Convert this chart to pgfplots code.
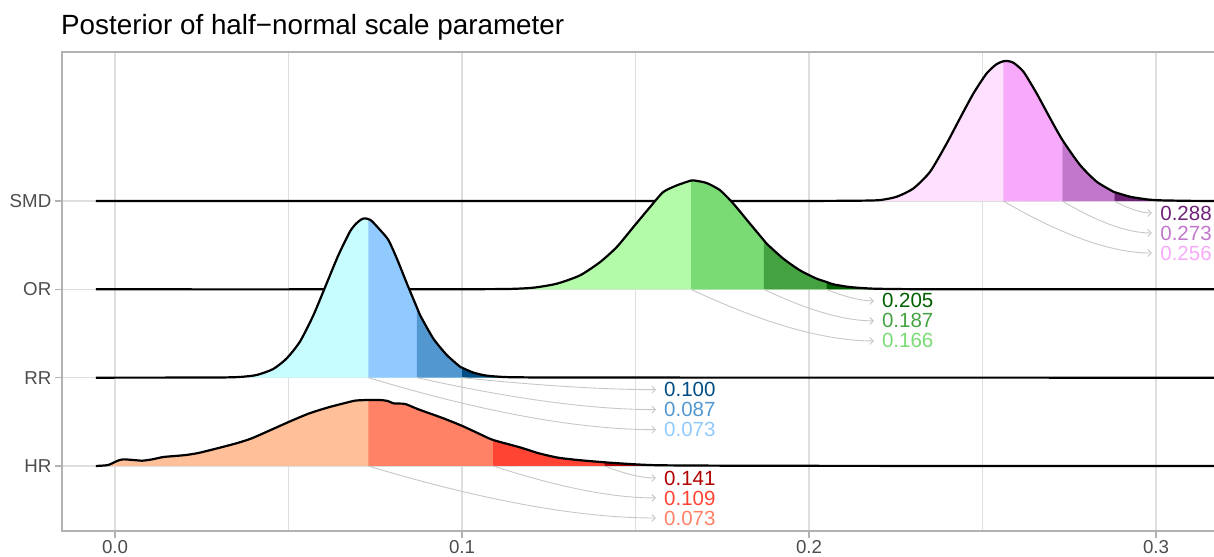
\documentclass[border=0pt]{standalone}
\usepackage{fontspec}
\setmainfont{Liberation Sans}
\usepackage{pgfplots}
\pgfplotsset{compat=1.18}
\usepackage{pgfplotstable}
\usetikzlibrary{arrows.meta}

% band colours: A = below median, B, C, D = upper tail bands
\definecolor{smdA}{HTML}{FFE0FF}\definecolor{smdB}{HTML}{F8AAFA}
\definecolor{smdC}{HTML}{C277CC}\definecolor{smdD}{HTML}{6E2277}
\definecolor{orA}{HTML}{B3FBA8}\definecolor{orB}{HTML}{7ADB75}
\definecolor{orC}{HTML}{44A340}\definecolor{orD}{HTML}{005F00}
\definecolor{rrA}{HTML}{C8FDFF}\definecolor{rrB}{HTML}{91CAFF}
\definecolor{rrC}{HTML}{5397D0}\definecolor{rrD}{HTML}{004E85}
\definecolor{hrA}{HTML}{FEBF99}\definecolor{hrB}{HTML}{FF8266}
\definecolor{hrC}{HTML}{FF4433}\definecolor{hrD}{HTML}{B20000}
\definecolor{tickgrey}{HTML}{4D4D4D}

\newcommand{\lab}{\fontsize{20.5bp}{22bp}\selectfont}

% posterior density heights (ridge units above each baseline)
\pgfplotstableread{
x h
-0.0055 0
0.1500 0
0.2000 0.001
0.2147 0.004
0.2205 0.011
0.2253 0.049
0.2301 0.143
0.2349 0.332
0.2397 0.653
0.2435 0.936
0.2474 1.219
0.2512 1.445
0.2541 1.551
0.2560 1.582
0.2572 1.585
0.2589 1.566
0.2618 1.464
0.2656 1.219
0.2695 0.936
0.2730 0.693
0.2781 0.408
0.2829 0.219
0.2877 0.106
0.2880 0.101
0.2925 0.049
0.2973 0.019
0.3012 0.008
0.3100 0.002
0.3176 0.001
}\smd

\pgfplotstableread{
x h
-0.0055 0
0.0600 0
0.0937 0.001
0.1129 0.004
0.1206 0.019
0.1273 0.064
0.1340 0.158
0.1398 0.309
0.1446 0.479
0.1494 0.706
0.1542 0.932
0.1580 1.102
0.1619 1.177
0.1660 1.232
0.1667 1.234
0.1705 1.204
0.1744 1.121
0.1782 0.970
0.1830 0.743
0.1870 0.555
0.1878 0.517
0.1926 0.347
0.1974 0.215
0.2022 0.121
0.2050 0.084
0.2070 0.057
0.2118 0.026
0.2185 0.008
0.2300 0.002
0.2600 0.001
0.3176 0
}\orr

\pgfplotstableread{
x h
-0.0055 0
0.0200 0.001
0.0303 0.002
0.0360 0.008
0.0408 0.030
0.0456 0.098
0.0495 0.219
0.0533 0.408
0.0572 0.709
0.0610 1.068
0.0644 1.389
0.0677 1.653
0.0695 1.745
0.0710 1.792
0.0720 1.804
0.0730 1.795
0.0740 1.774
0.0764 1.672
0.0788 1.558
0.0812 1.351
0.0841 1.068
0.0870 0.794
0.0879 0.709
0.0917 0.445
0.0956 0.257
0.0994 0.125
0.1000 0.113
0.1033 0.057
0.1071 0.023
0.1119 0.008
0.1167 0.004
0.1400 0.001
0.3176 0
}\rr

\pgfplotstableread{
x h
-0.0055 0
-0.0020 0.011
0.0008 0.060
0.0024 0.075
0.0052 0.068
0.0079 0.060
0.0107 0.075
0.0140 0.102
0.0173 0.113
0.0206 0.125
0.0240 0.147
0.0284 0.189
0.0350 0.257
0.0394 0.313
0.0449 0.408
0.0505 0.506
0.0560 0.596
0.0615 0.664
0.0659 0.709
0.0692 0.740
0.0725 0.747
0.0730 0.747
0.0764 0.747
0.0786 0.736
0.0803 0.709
0.0836 0.702
0.0874 0.642
0.0946 0.540
0.1001 0.453
0.1057 0.351
0.1090 0.294
0.1167 0.211
0.1222 0.143
0.1277 0.094
0.1333 0.068
0.1410 0.042
0.1498 0.019
0.1573 0.008
0.1800 0.003
0.2200 0.001
0.3176 0
}\hr

\tikzset{
  ridge/.style={draw=black, line width=2.2bp, line join=round, smooth, tension=0.4},
  basefill/.style={draw=none, smooth, tension=0.4},
  qarr/.style={draw=black!22, line width=0.9bp, -{Straight Barb[length=3.5bp,width=7bp]}},
}

\begin{document}
\begin{tikzpicture}
\useasboundingbox (0,0) rectangle (1214bp,557bp);
\node[anchor=base west, inner sep=0pt, font=\fontsize{27.8bp}{30bp}\selectfont]
  at (61bp,522bp) {Posterior of half−normal scale parameter};

\begin{axis}[
  at={(62bp,26bp)}, anchor=south west,
  scale only axis, width=1155bp, height=479bp,
  xmin=-0.015274, xmax=0.31758, ymin=0.2639, ymax=5.6874,
  xtick={0,0.1,0.2,0.3}, xticklabels={0.0,0.1,0.2,0.3},
  minor xtick={0.05,0.15,0.25},
  ytick={1,2,3,4}, yticklabels={HR,RR,OR,SMD},
  grid=both,
  major grid style={draw=black!13, line width=1.1bp},
  minor grid style={draw=black!13, line width=0.55bp},
  axis line style={draw=black!30, line width=1.3bp},
  tick align=outside, tick pos=left,
  major tick length=6.5bp, minor tick length=0pt,
  tick style={draw=black!30, line width=1.1bp},
  ticklabel style={font=\fontsize{18.7bp}{20bp}\selectfont, text=tickgrey},
  xticklabel style={inner sep=3bp},
  yticklabel style={inner sep=4bp},
]

% ---- SMD ridge (baseline 4)
\addplot[fill=smdA, basefill] table[y expr=\thisrow{h}+4] {\smd};
\addplot[fill=smdB, draw=none] table[y expr=\thisrow{h}+4] {
x h
0.2560 0
0.2560 1.582
0.2572 1.585
0.2589 1.566
0.2618 1.464
0.2656 1.219
0.2695 0.936
0.2730 0.693
0.2730 0
};
\addplot[fill=smdC, draw=none] table[y expr=\thisrow{h}+4] {
x h
0.2730 0
0.2730 0.693
0.2781 0.408
0.2829 0.219
0.2877 0.106
0.2880 0.101
0.2880 0
};
\addplot[fill=smdD, draw=none] table[y expr=\thisrow{h}+4] {
x h
0.2880 0
0.2880 0.101
0.2925 0.049
0.2973 0.019
0.3012 0.008
0.3100 0.002
0.3176 0.001
0.3176 0
};
\addplot[ridge] table[y expr=\thisrow{h}+4] {\smd};

% ---- OR ridge (baseline 3)
\addplot[fill=orA, basefill] table[y expr=\thisrow{h}+3] {\orr};
\addplot[fill=orB, draw=none] table[y expr=\thisrow{h}+3] {
x h
0.1660 0
0.1660 1.232
0.1667 1.234
0.1705 1.204
0.1744 1.121
0.1782 0.970
0.1830 0.743
0.1870 0.555
0.1870 0
};
\addplot[fill=orC, draw=none] table[y expr=\thisrow{h}+3] {
x h
0.1870 0
0.1870 0.555
0.1878 0.517
0.1926 0.347
0.1974 0.215
0.2022 0.121
0.2050 0.084
0.2050 0
};
\addplot[fill=orD, draw=none] table[y expr=\thisrow{h}+3] {
x h
0.2050 0
0.2050 0.084
0.2070 0.057
0.2118 0.026
0.2185 0.008
0.2300 0.002
0.2600 0.001
0.3176 0
};
\addplot[ridge] table[y expr=\thisrow{h}+3] {\orr};

% ---- RR ridge (baseline 2)
\addplot[fill=rrA, basefill] table[y expr=\thisrow{h}+2] {\rr};
\addplot[fill=rrB, draw=none] table[y expr=\thisrow{h}+2] {
x h
0.0730 0
0.0730 1.795
0.0740 1.774
0.0764 1.672
0.0788 1.558
0.0812 1.351
0.0841 1.068
0.0870 0.794
0.0870 0
};
\addplot[fill=rrC, draw=none] table[y expr=\thisrow{h}+2] {
x h
0.0870 0
0.0870 0.794
0.0879 0.709
0.0917 0.445
0.0956 0.257
0.0994 0.125
0.1000 0.113
0.1000 0
};
\addplot[fill=rrD, draw=none] table[y expr=\thisrow{h}+2] {
x h
0.1000 0
0.1000 0.113
0.1033 0.057
0.1071 0.023
0.1119 0.008
0.1167 0.004
0.1400 0.001
0.3176 0
};
\addplot[ridge] table[y expr=\thisrow{h}+2] {\rr};

% ---- HR ridge (baseline 1)
\addplot[fill=hrA, basefill] table[y expr=\thisrow{h}+1] {\hr};
\addplot[fill=hrB, draw=none] table[y expr=\thisrow{h}+1] {
x h
0.0730 0
0.0730 0.747
0.0764 0.747
0.0786 0.736
0.0803 0.709
0.0836 0.702
0.0874 0.642
0.0946 0.540
0.1001 0.453
0.1057 0.351
0.1090 0.294
0.1090 0
};
\addplot[fill=hrC, draw=none] table[y expr=\thisrow{h}+1] {
x h
0.1090 0
0.1090 0.294
0.1167 0.211
0.1222 0.143
0.1277 0.094
0.1333 0.068
0.1410 0.042
0.1410 0
};
\addplot[fill=hrD, draw=none] table[y expr=\thisrow{h}+1] {
x h
0.1410 0
0.1410 0.042
0.1498 0.019
0.1573 0.008
0.1800 0.003
0.2200 0.001
0.3176 0
};
\addplot[ridge] table[y expr=\thisrow{h}+1] {\hr};

% ---- quantile call-outs
\draw[qarr] (axis cs:0.141,1) .. controls (axis cs:0.1470,0.9093) and (axis cs:0.1519,0.864) .. (axis cs:0.1559,0.864);
\draw[qarr] (axis cs:0.109,1) .. controls (axis cs:0.1278,0.7587) and (axis cs:0.1434,0.638) .. (axis cs:0.1559,0.638);
\draw[qarr] (axis cs:0.073,1) .. controls (axis cs:0.1062,0.6073) and (axis cs:0.1338,0.411) .. (axis cs:0.1559,0.411);

\draw[qarr] (axis cs:0.100,2) .. controls (axis cs:0.1224,1.9093) and (axis cs:0.1410,1.864) .. (axis cs:0.1559,1.864);
\draw[qarr] (axis cs:0.087,2) .. controls (axis cs:0.1146,1.7587) and (axis cs:0.1375,1.638) .. (axis cs:0.1559,1.638);
\draw[qarr] (axis cs:0.073,2) .. controls (axis cs:0.1062,1.6073) and (axis cs:0.1338,1.411) .. (axis cs:0.1559,1.411);

\draw[qarr] (axis cs:0.205,3) .. controls (axis cs:0.2105,2.9127) and (axis cs:0.2150,2.869) .. (axis cs:0.2187,2.869);
\draw[qarr] (axis cs:0.187,3) .. controls (axis cs:0.1997,2.762) and (axis cs:0.2102,2.643) .. (axis cs:0.2187,2.643);
\draw[qarr] (axis cs:0.166,3) .. controls (axis cs:0.1871,2.6107) and (axis cs:0.2046,2.416) .. (axis cs:0.2187,2.416);

\draw[qarr] (axis cs:0.288,4) .. controls (axis cs:0.2923,3.9093) and (axis cs:0.2959,3.864) .. (axis cs:0.2988,3.864);
\draw[qarr] (axis cs:0.273,4) .. controls (axis cs:0.2833,3.7587) and (axis cs:0.2919,3.638) .. (axis cs:0.2988,3.638);
\draw[qarr] (axis cs:0.256,4) .. controls (axis cs:0.2731,3.6073) and (axis cs:0.2874,3.411) .. (axis cs:0.2988,3.411);

\node[anchor=west, inner sep=0pt, text=hrD, font=\lab] at (axis cs:0.1582,0.864) {0.141};
\node[anchor=west, inner sep=0pt, text=hrC, font=\lab] at (axis cs:0.1582,0.638) {0.109};
\node[anchor=west, inner sep=0pt, text=hrB, font=\lab] at (axis cs:0.1582,0.411) {0.073};

\node[anchor=west, inner sep=0pt, text=rrD, font=\lab] at (axis cs:0.1582,1.864) {0.100};
\node[anchor=west, inner sep=0pt, text=rrC, font=\lab] at (axis cs:0.1582,1.638) {0.087};
\node[anchor=west, inner sep=0pt, text=rrB, font=\lab] at (axis cs:0.1582,1.411) {0.073};

\node[anchor=west, inner sep=0pt, text=orD, font=\lab] at (axis cs:0.2210,2.869) {0.205};
\node[anchor=west, inner sep=0pt, text=orC, font=\lab] at (axis cs:0.2210,2.643) {0.187};
\node[anchor=west, inner sep=0pt, text=orB, font=\lab] at (axis cs:0.2210,2.416) {0.166};

\node[anchor=west, inner sep=0pt, text=smdD, font=\lab] at (axis cs:0.3012,3.864) {0.288};
\node[anchor=west, inner sep=0pt, text=smdC, font=\lab] at (axis cs:0.3012,3.638) {0.273};
\node[anchor=west, inner sep=0pt, text=smdB, font=\lab] at (axis cs:0.3012,3.411) {0.256};
\end{axis}
\end{tikzpicture}
\end{document}
